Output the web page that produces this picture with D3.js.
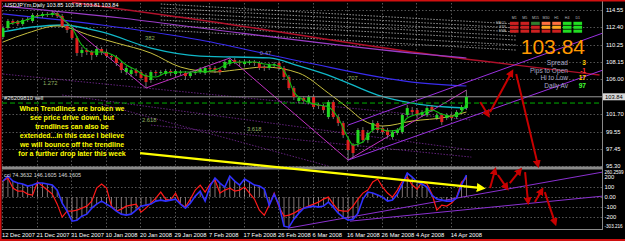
<!DOCTYPE html>
<html lang="en">
<head>
<meta charset="UTF-8">
<title>USDJPYm Daily</title>
<script src="https://d3js.org/d3.v7.min.js"></script>
<style>
    body { margin: 0; background: #000; }
    svg { display: block; font-family: 'Liberation Sans', Arial, sans-serif; }
    .axis-text { fill: #fff; font-size: 5.8px; }
    .grid { stroke: #6a6a6a; stroke-width: 0.8; stroke-dasharray: 1.5 2; }
</style>
</head>
<body>
<svg id="chart" width="625" height="241"></svg>
<script>
// ---- data ----
const dates = ["12 Dec 2007","21 Dec 2007","31 Dec 2007","10 Jan 2008","20 Jan 2008","29 Jan 2008","7 Feb 2008",
    "17 Feb 2008","26 Feb 2008","6 Mar 2008","16 Mar 2008","26 Mar 2008","4 Apr 2008","14 Apr 2008"];
const priceTicks = [114.55,112.40,110.25,108.15,106.00,101.70,99.55,97.45,95.30];
const bid = 103.84;
const sellOrder = 103.07;

const open = [111.22,112.33,113.19,113.19,112.82,113.32,113.19,113.93,113.81,114.06,
    113.93,114.18,113.81,112.58,112.08,111.09,109.24,109.61,109.37,108.99,
    109.74,109.37,108.87,108.75,108.01,106.90,106.65,107.14,106.90,106.53,
    105.91,106.90,106.77,106.65,107.02,106.65,106.90,106.77,106.40,106.77,
    106.90,106.77,107.39,107.39,107.14,107.39,107.88,108.38,108.13,107.88,
    108.01,108.13,108.01,107.51,107.39,107.76,108.01,107.39,106.28,104.92,
    103.32,103.69,103.19,103.81,102.82,102.70,101.34,103.19,101.34,100.60,
    98.50,97.88,98.13,99.74,98.50,99.74,100.60,99.98,99.74,98.87,
    99.37,99.49,101.59,102.20,102.20,101.59,101.59,102.58,101.22,101.59,
    101.22,101.59,101.34,102.20,102.45];
const high = [112.58,113.44,113.44,113.32,113.56,113.69,114.18,114.18,114.30,114.30,
    114.43,114.43,114.06,112.82,112.33,111.34,109.98,109.86,109.61,110.11,
    109.98,109.61,109.12,108.99,108.25,107.64,107.39,107.39,107.14,106.77,
    107.14,107.14,107.14,107.27,107.27,107.27,107.14,107.02,107.02,107.14,
    107.51,107.64,107.64,107.64,107.39,108.38,108.62,108.62,108.38,108.38,
    108.38,108.38,108.25,107.76,108.01,108.13,108.25,107.64,106.53,105.17,
    103.93,103.93,104.06,104.06,103.07,102.95,103.44,103.44,101.59,100.85,
    98.99,98.13,99.98,100.11,99.74,100.97,100.85,100.23,99.98,99.74,
    99.98,101.83,102.82,102.58,102.45,102.20,102.70,102.82,101.83,101.83,
    101.83,101.83,102.20,102.82,104.67];
const low = [110.97,112.08,112.70,112.58,112.58,113.07,112.95,113.56,113.56,113.69,
    113.69,113.56,112.33,111.71,110.85,108.87,108.75,108.99,108.38,108.75,
    108.99,108.62,108.38,107.64,106.77,106.53,106.28,106.40,105.91,104.92,
    105.54,106.40,106.53,106.40,106.40,106.28,106.53,105.91,106.16,106.53,
    106.65,106.53,106.90,106.77,106.53,107.14,107.64,107.88,107.64,107.64,
    107.76,107.64,107.14,107.02,107.14,107.51,107.14,105.91,104.67,103.44,
    103.07,102.95,102.95,102.33,102.33,101.83,101.09,101.09,100.23,98.75,
    96.03,96.28,97.64,98.13,98.13,99.37,99.37,99.12,98.75,98.62,
    99.12,99.24,101.34,101.71,101.22,101.34,101.34,101.96,100.97,100.35,
    100.97,100.85,101.09,101.96,102.20];
const close = [112.33,113.19,112.95,112.82,113.32,113.44,113.93,113.81,114.06,113.93,
    114.18,113.81,112.58,112.08,111.09,109.24,109.61,109.37,108.99,109.74,
    109.37,108.87,108.75,108.01,107.14,107.39,107.14,106.77,106.16,105.66,
    106.90,106.77,106.90,107.02,106.77,107.02,106.92,106.40,106.77,106.90,
    107.27,107.39,107.27,107.14,106.90,108.13,108.38,108.13,108.01,108.13,
    108.13,108.01,107.39,107.39,107.76,107.88,107.39,106.28,104.92,103.81,
    103.69,103.32,103.81,102.58,102.70,102.20,103.19,101.34,100.60,99.12,
    97.27,96.90,99.74,98.50,99.37,100.60,99.74,99.49,99.12,99.49,
    99.74,101.59,102.45,101.96,101.59,101.96,102.45,102.20,101.59,100.72,
    101.59,101.22,101.96,102.58,103.84];

// moving averages / long lines: [bar, price]
const maFast = [[1,112.82],[4,113.19],[8,113.93],[11,114.06],[12,113.56],[14,112.33],[16,110.23],[18,109.37],
    [20,109.37],[23,108.75],[25,107.76],[27,107.14],[29,106.40],[31,106.28],[33,106.77],[36,106.90],[40,106.90],
    [43,107.14],[46,108.01],[48,108.13],[51,108.13],[53,107.88],[56,107.63],[58,105.91],[59,104.43],[61,103.44],
    [64,102.82],[66,102.58],[68,101.22],[70,98.75],[71,97.88],[73,98.25],[74,99.12],[76,99.98],[78,99.61],
    [80,99.73],[82,101.22],[85,101.84],[87,102.21],[89,101.71],[91,101.46],[93,101.96],[94,103.07]];
const maMid = [[0,110.60],[5,111.71],[11,112.58],[18,111.34],[23,110.48],[30,109.24],[36,107.51],[43,106.90],
    [47,107.14],[53,107.51],[60,106.77],[66,104.30],[70,102.45],[73,100.97],[77,100.23],[83,100.85],[90,101.34],[94,101.96]];
const maSlow = [[0,111.84],[6,112.45],[12,112.70],[20,111.84],[30,109.86],[40,108.87],[54,108.63],[60,107.64],
    [67,106.28],[76,104.06],[83,103.07],[90,102.58],[94,102.45]];
const maBlue = [[0,114.06],[20,112.70],[40,110.85],[61,108.13],[83,105.66],[94,105.17]];
const maPurple = [[0,115.04],[24,113.56],[40,112.33],[83,109.24],[94,108.63]];
const maRed = [[14,115.5],[40,113.32],[83,109.37],[121,106.53]];

const zigzag = [[10,114.43],[29,104.92],[46,108.62],[70,96.03],[94,104.67]];
const channel = [[70,100.35,121.7,111.71],[70,96.03,121.7,107.14]];
const fanWhite = [[32,115.29,104,112.82],[32,114.80,104,112.33],[32,114.30,104,111.84],[32,113.81,104,111.34],
    [32,113.32,104,110.85],[32,112.70,104,110.23],[32,112.08,104,109.61]];
const fanPurple = [[0,106.65,95,100.97],[12,104.06,95,97.27],[20,102.95,66,95.29],[30,100.35,95,96.40]];
const fibLabels = [["1.272",8.1,105.54],["382",28.8,111.09],["0.47",52.1,109.24],["707",70,106.16],
    ["2.618",28.2,100.97],["3.618",49.5,99.86]];

// CCI panel
const cciBlue = [160,210,160,140,130,110,120,140,140,130,
    120,70,-60,-140,-240,-230,-190,-170,-110,-70,
    -40,-70,-100,-140,-170,-180,-170,-130,-90,-80,
    -70,-40,-30,-40,-30,-20,-70,-110,-60,10,
    60,-40,110,190,140,100,210,160,120,180,
    150,120,110,80,-80,30,-80,-290,-300,-220,
    -160,-110,-100,-90,-100,-90,-50,-100,-160,-200,
    -230,-220,-160,-20,50,40,20,0,-40,-30,
    30,130,240,200,150,130,100,20,-20,-30,
    -40,-40,-10,120,220];
const cciRed = [160,190,90,60,60,30,20,150,110,70,
    30,-70,-200,-140,-140,-130,-110,-90,-40,90,
    130,90,-90,-140,-120,-90,-80,-70,-150,-110,
    -60,-10,50,-20,-30,40,-70,-100,-20,70,
    120,50,130,170,40,70,90,60,70,100,
    40,-20,-130,-180,-80,40,-100,-190,-180,-160,
    -130,-110,-90,-70,-50,-20,0,-70,-130,-140,
    -140,-90,-20,40,70,150,180,100,40,0,
    70,160,200,120,80,150,130,30,-130,-80,
    -90,-60,0,150,190];
const cciTicks = [100,0,-100,-200];
const cciLabels = ["260.2599","200","100","0.00","-100","-200","-303.216"];
const cciLabelVals = [260,200,100,0,-100,-200,-303.216];
const cciTrend = [[57.8,-310,121.7,250],[70.4,-240,121.7,10]];

// hand drawn arrows
const redArrowsMain = [[96.8,103.19,98.4,101.59],[98.8,101.96,103.2,106.90],[104.1,106.65,108.5,95.41]];
const redArrowsCci = [[98.8,90,99.8,270],[100.4,220,102.2,90],[102.8,140,104.9,270],[105.9,250,106.5,-50],
    [107.9,-50,109.3,70],[109.9,50,112,-260]];
const yellowArrow = {from: [27.8, 96.89], to: [97.2, 90]};
const noteLines = ["When Trendlines are broken we","see price drive down, but","trendlines can also be",
    "extended...in this case I believe","we will bounce off the trendline","for a further drop later this week"];

// info panel
const tfCols = ["M1","M5","M15","M30","H1","H4","D1"];
const sigRows = ["MACD","STR","EMA"];
const sigState = [["r","r","d","o","o","g","g"],["r","r","r","y","y","g","g"],["r","r","r","r","r","g","g"]];
const sigColor = {r:"#cc2020", g:"#22dd22", d:"#2f7f2f", o:"#ff7040", y:"#ffaa20"};
const statLabels = ["Spread","Pips to Open","Hi to Low","Daily Av"];
const statValues = ["3","-1","17","97"];
const statColors = ["#ffcc00","#ff3030","#ffcc00","#44ff33"];

// ---- drawing ----
const svg = d3.select("#chart");
svg.append("rect").attr("width", 625).attr("height", 241).attr("fill", "#000");

const x = d3.scaleLinear().domain([0, 120]).range([3, 3 + 4.93 * 120]);
const yP = d3.scaleLinear().domain([95.30, 114.55]).range([166, 10]);
const yI = d3.scaleLinear().domain([-303.216, 260.26]).range([227.5, 171]);

const defs = svg.append("defs");
defs.append("clipPath").attr("id", "clipMain").append("rect").attr("x", 2).attr("y", 2).attr("width", 600).attr("height", 164.5);
defs.append("clipPath").attr("id", "clipCci").append("rect").attr("x", 2).attr("y", 170).attr("width", 600).attr("height", 59);
function marker(id, color, size) {
    defs.append("marker").attr("id", id).attr("viewBox", "0 0 10 10").attr("refX", 6).attr("refY", 5)
        .attr("markerWidth", size).attr("markerHeight", size).attr("markerUnits", "userSpaceOnUse")
        .attr("orient", "auto").append("path").attr("d", "M0,0 L10,5 L0,10 z").attr("fill", color);
}
marker("headRed", "#c80000", 8);
marker("headYellow", "#ffff00", 9);

// grid
const grid = svg.append("g");
dates.forEach((d, k) => {
    const gx = Math.round(x(k * 7)) - 0.5;
    grid.append("line").attr("class", "grid").attr("x1", gx).attr("x2", gx).attr("y1", 3).attr("y2", 166);
    grid.append("line").attr("class", "grid").attr("x1", gx).attr("x2", gx).attr("y1", 170).attr("y2", 229);
});
priceTicks.forEach(p => {
    grid.append("line").attr("class", "grid").attr("x1", 2).attr("x2", 602)
        .attr("y1", Math.round(yP(p)) + 0.5).attr("y2", Math.round(yP(p)) + 0.5);
});
cciTicks.forEach(v => {
    grid.append("line").attr("class", "grid").attr("x1", 2).attr("x2", 602)
        .attr("y1", Math.round(yI(v)) + 0.5).attr("y2", Math.round(yI(v)) + 0.5);
});

// main panel
const main = svg.append("g").attr("clip-path", "url(#clipMain)");
const seg = (g, s, color, w, dash) => g.append("line")
    .attr("x1", x(s[0])).attr("y1", yP(s[1])).attr("x2", x(s[2])).attr("y2", yP(s[3]))
    .attr("stroke", color).attr("stroke-width", w).attr("stroke-dasharray", dash || null);

fanWhite.forEach(s => seg(main, s, "#bdbdbd", 0.8, "1.5 1.5"));
fanPurple.forEach(s => seg(main, s, "#7a2a9a", 0.8, "1.5 1.5"));

const maLine = d3.line().x(d => x(d[0])).y(d => yP(d[1])).curve(d3.curveMonotoneX);
[[maRed, "#b0102a", 1.4], [maPurple, "#9a3cc8", 1.2], [maBlue, "#3a2cf0", 1.2], [maSlow, "#10b8c8", 1.3], [maMid, "#c8c040", 1.0]]
    .forEach(([pts, c, w]) => main.append("path").attr("d", maLine(pts)).attr("fill", "none").attr("stroke", c).attr("stroke-width", w));

main.append("path").attr("d", d3.line().x(d => x(d[0])).y(d => yP(d[1]))(zigzag))
    .attr("fill", "none").attr("stroke", "#c030c0").attr("stroke-width", 1);
channel.forEach(s => seg(main, s, "#9a30e0", 1));

// order and bid lines
main.append("line").attr("x1", 2).attr("x2", 602).attr("y1", yP(sellOrder)).attr("y2", yP(sellOrder))
    .attr("stroke", "#00b000").attr("stroke-width", 1).attr("stroke-dasharray", "5 3");
main.append("line").attr("x1", 2).attr("x2", 602).attr("y1", yP(bid)).attr("y2", yP(bid))
    .attr("stroke", "#9a9a9a").attr("stroke-width", 1);

// candles
const bars = d3.range(close.length);
const cg = main.append("g");
cg.selectAll("line.wick").data(bars).join("line").attr("class", "wick")
    .attr("x1", i => x(i)).attr("x2", i => x(i)).attr("y1", i => yP(high[i])).attr("y2", i => yP(low[i]))
    .attr("stroke", "#8c8c8c").attr("stroke-width", 0.8);
cg.selectAll("rect").data(bars).join("rect")
    .attr("x", i => x(i) - 1.5).attr("width", 3)
    .attr("y", i => yP(Math.max(open[i], close[i])))
    .attr("height", i => Math.max(1, Math.abs(yP(open[i]) - yP(close[i]))))
    .attr("fill", i => close[i] >= open[i] ? "#22d822" : "#e02020");

main.append("path").attr("d", maLine(maFast)).attr("fill", "none").attr("stroke", "#10c010").attr("stroke-width", 1.1);

fibLabels.forEach(([t, i, p]) => main.append("text").attr("x", x(i)).attr("y", yP(p) + 2)
    .attr("fill", t === "0.47" ? "#8c8cbc" : "#90b060").attr("font-size", 5.8).text(t));

main.append("text").attr("x", 4).attr("y", yP(bid) + 3.5).attr("fill", "#e0e0e0").attr("font-size", 5.8).text("#26209810 sell");

// CCI panel
const cci = svg.append("g").attr("clip-path", "url(#clipCci)");
cci.selectAll("line.hist").data(bars).join("line").attr("class", "hist")
    .attr("x1", i => x(i)).attr("x2", i => x(i)).attr("y1", yI(0)).attr("y2", i => yI(cciBlue[i]))
    .attr("stroke", "#d8c4c4").attr("stroke-width", 0.8).attr("opacity", 0.75);
cciTrend.forEach(s => cci.append("line").attr("x1", x(s[0])).attr("y1", yI(s[1])).attr("x2", x(s[2])).attr("y2", yI(s[3]))
    .attr("stroke", "#8a30d0").attr("stroke-width", 1));
const cciLine = d3.line().x((d, i) => x(i)).y(d => yI(d));
cci.append("path").attr("d", cciLine(cciRed)).attr("fill", "none").attr("stroke", "#ff1a1a").attr("stroke-width", 1.2);
cci.append("path").attr("d", cciLine(cciBlue)).attr("fill", "none").attr("stroke", "#3030ff").attr("stroke-width", 1.6);
svg.append("text").attr("x", 4).attr("y", 177).attr("fill", "#d8d8d8").attr("font-size", 5.5).text("cci 74.3632 146.1605 146.1605");

// frames
svg.append("rect").attr("x", 2).attr("y", 166.5).attr("width", 600).attr("height", 3).attr("fill", "#8a8a8a");
svg.append("line").attr("x1", 2).attr("x2", 602).attr("y1", 229.5).attr("y2", 229.5).attr("stroke", "#8a8a8a");
svg.append("line").attr("x1", 602.5).attr("x2", 602.5).attr("y1", 0).attr("y2", 230).attr("stroke", "#8a8a8a");
svg.append("rect").attr("x", 0).attr("y", 0).attr("width", 625).attr("height", 1.5).attr("fill", "#d01010");
svg.append("rect").attr("x", 0).attr("y", 0).attr("width", 1.5).attr("height", 241).attr("fill", "#d01010");
svg.append("rect").attr("x", 0).attr("y", 239).attr("width", 625).attr("height", 2).attr("fill", "#d01010");

// axes text
priceTicks.forEach(p => svg.append("text").attr("class", "axis-text").attr("x", 606).attr("y", yP(p) + 2).text(p.toFixed(2)));
svg.append("rect").attr("x", 603).attr("y", yP(bid) - 3.5).attr("width", 22).attr("height", 7).attr("fill", "#d8d8d8");
svg.append("text").attr("class", "axis-text").attr("x", 605).attr("y", yP(bid) + 2).style("fill", "#000").text(bid.toFixed(2));
cciLabels.forEach((t, k) => svg.append("text").attr("class", "axis-text").attr("x", 604.5)
    .attr("y", Math.min(228, Math.max(173.5, yI(cciLabelVals[k]) + 2)))
    .style("font-size", t.length > 6 ? "4.6px" : "5.8px").text(t));
dates.forEach((d, k) => svg.append("text").attr("class", "axis-text").attr("x", x(k * 7) - 1).attr("y", 237).text(d));

svg.append("text").attr("x", 5).attr("y", 7).attr("fill", "#fff").attr("font-size", 5.5)
    .text("USDJPYm,Daily  103.85 103.98 103.81 103.84");

// annotation
noteLines.forEach((t, k) => svg.append("text").attr("x", 72).attr("y", 111 + k * 9)
    .attr("text-anchor", "middle").attr("fill", "#ffff00").attr("font-size", 7).attr("font-weight", "bold").text(t));

svg.append("line").attr("x1", x(yellowArrow.from[0])).attr("y1", yP(yellowArrow.from[1]))
    .attr("x2", x(yellowArrow.to[0])).attr("y2", yI(yellowArrow.to[1]))
    .attr("stroke", "#ffff00").attr("stroke-width", 2.2).attr("marker-end", "url(#headYellow)");
redArrowsMain.forEach(s => svg.append("line").attr("x1", x(s[0])).attr("y1", yP(s[1])).attr("x2", x(s[2])).attr("y2", yP(s[3]))
    .attr("stroke", "#c80000").attr("stroke-width", 2).attr("marker-end", "url(#headRed)"));
redArrowsCci.forEach(s => svg.append("line").attr("x1", x(s[0])).attr("y1", yI(s[1])).attr("x2", x(s[2])).attr("y2", yI(s[3]))
    .attr("stroke", "#c80000").attr("stroke-width", 2).attr("marker-end", "url(#headRed)"));

// info panel
const colX = d3.scaleBand().domain(tfCols).range([508, 584]).padding(0.18);
const rowY = d3.scaleBand().domain(sigRows).range([21, 33.5]).padding(0.2);
const info = svg.append("g");
tfCols.forEach(c => info.append("text").attr("x", colX(c) + colX.bandwidth() / 2).attr("y", 18.5)
    .attr("text-anchor", "middle").attr("fill", "#bbb").attr("font-size", 3.6).text(c));
sigRows.forEach((r, ri) => {
    info.append("text").attr("x", 506).attr("y", rowY(r) + 2.5).attr("text-anchor", "end")
        .attr("fill", "#bbb").attr("font-size", 3.4).text(r);
    tfCols.forEach((c, ci) => info.append("rect").attr("x", colX(c)).attr("y", rowY(r))
        .attr("width", colX.bandwidth()).attr("height", rowY.bandwidth()).attr("fill", sigColor[sigState[ri][ci]]));
});
info.append("text").attr("x", 585).attr("y", 54).attr("text-anchor", "end").attr("fill", "#ff9900")
    .attr("font-size", 21).text(bid.toFixed(2));
statLabels.forEach((t, k) => {
    info.append("text").attr("x", 568).attr("y", 65 + k * 7.6).attr("text-anchor", "end")
        .attr("fill", "#a8a8c8").attr("font-size", 6.6).text(t);
    info.append("text").attr("x", 586).attr("y", 65 + k * 7.6).attr("text-anchor", "end")
        .attr("fill", statColors[k]).attr("font-size", 6.6).attr("font-weight", "bold").text(statValues[k]);
});
</script>
</body>
</html>
